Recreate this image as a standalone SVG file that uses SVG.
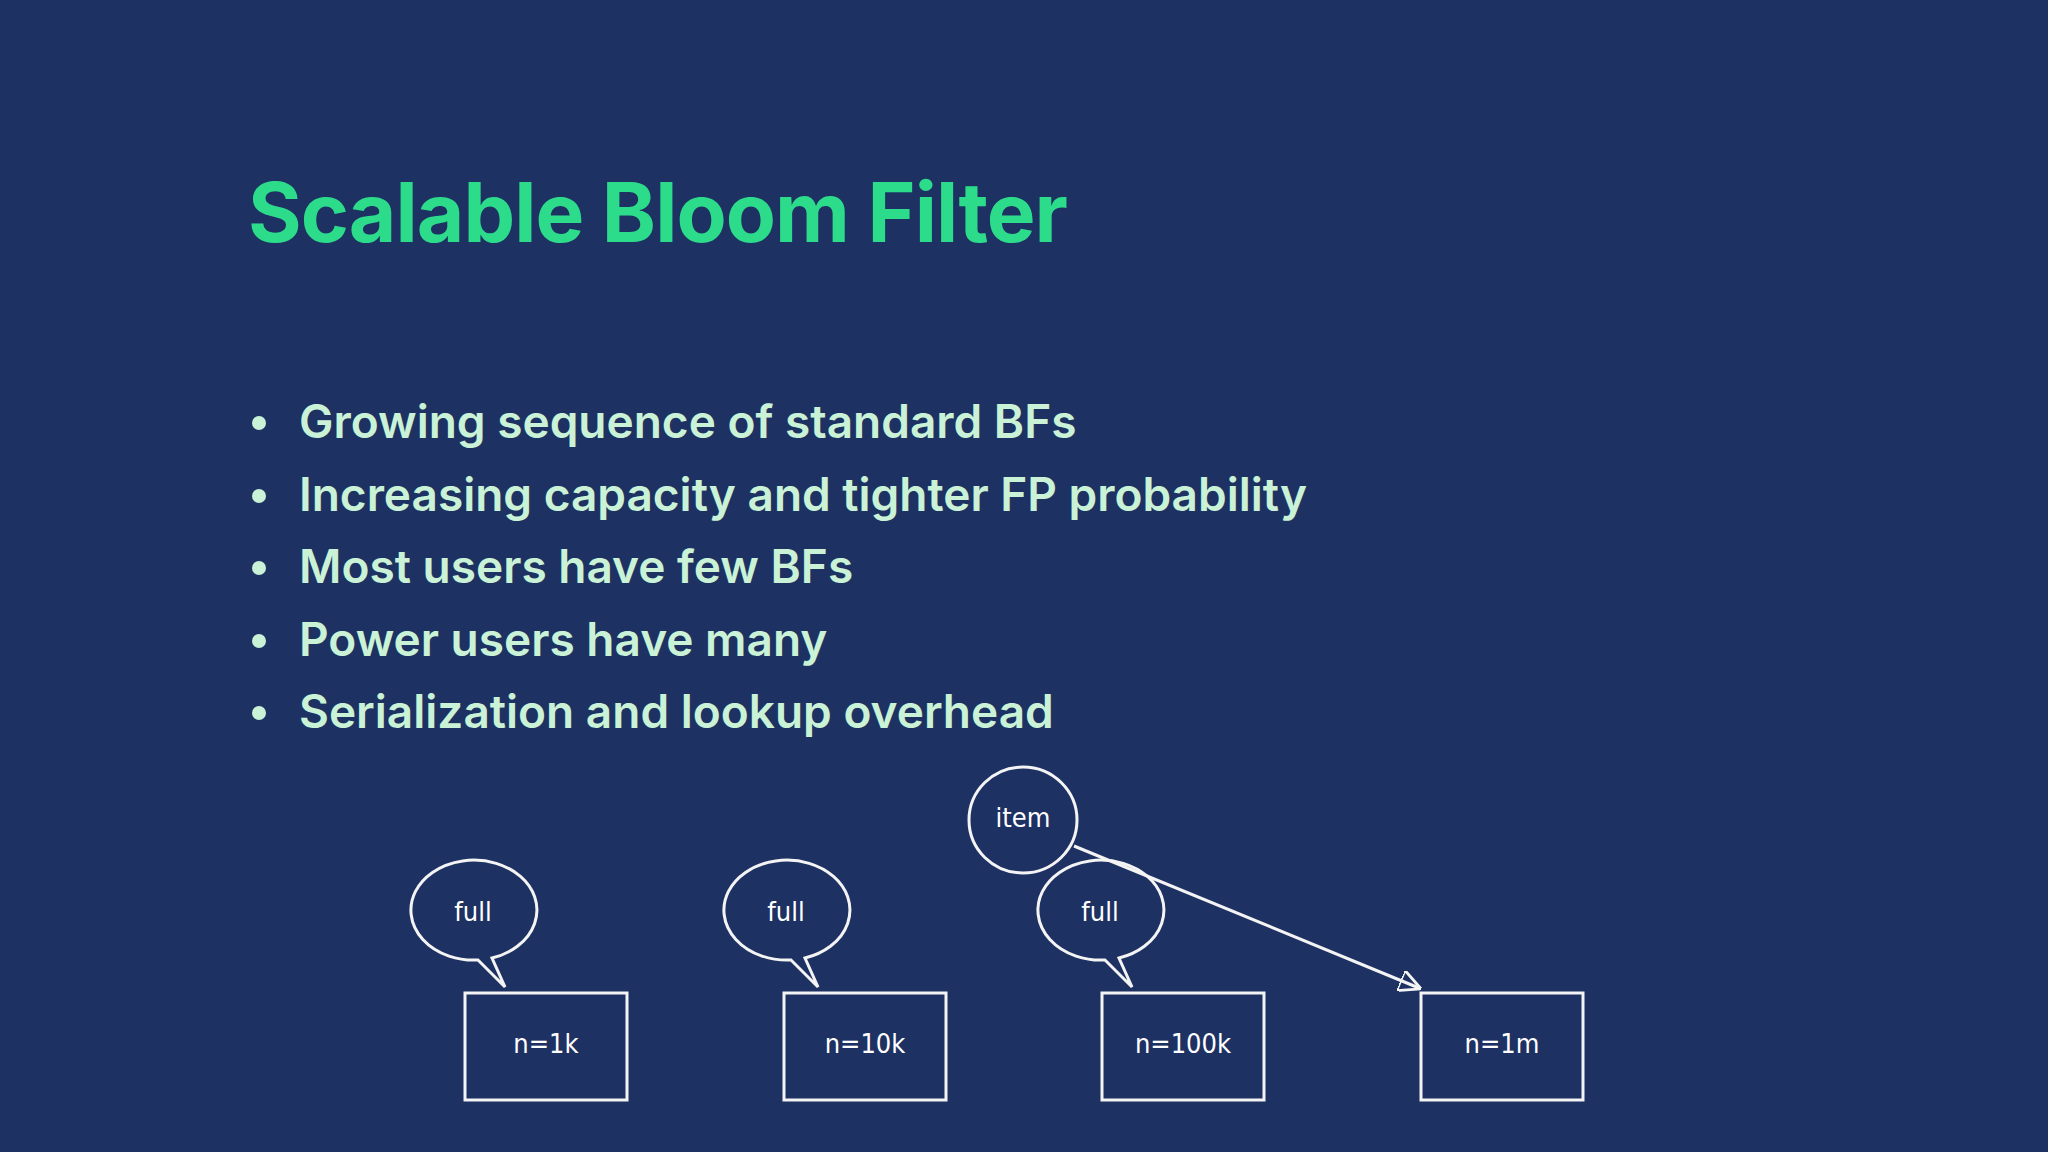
<svg xmlns="http://www.w3.org/2000/svg" width="2048" height="1152" viewBox="0 0 2048 1152">
<style>
.t{font-family:"Inter","Noto Sans",sans-serif;font-weight:700}
.b{font-family:"Inter","Noto Sans",sans-serif;font-weight:600;font-size:46px;fill:#c9f2d6}
.s{fill:none;stroke:#f4f4f4;stroke-width:3}
.h{font-family:"DejaVu Sans Condensed","DejaVu Sans",sans-serif;font-size:27px;fill:#fff;text-anchor:middle}
</style>
<defs>
<marker id="a2" viewBox="0 0 10 10" refX="9" refY="5" markerWidth="22" markerHeight="22" orient="auto" markerUnits="userSpaceOnUse"><path d="M0,0 L10,5 L0,10 Z" fill="none" stroke="#f4f4f4" stroke-width="1.3"/></marker></defs>
<rect width="2048" height="1152" fill="#1e3163"/>
<text class="t" x="248" y="242" font-size="82" fill="#2ddc8b" textLength="820">Scalable Bloom Filter</text>
<g fill="#c9f2d6"><circle cx="259" cy="423" r="7"/><circle cx="259" cy="496" r="7"/><circle cx="259" cy="568" r="7"/><circle cx="259" cy="641" r="7"/><circle cx="259" cy="713" r="7"/></g>
<text class="b" x="299" y="438">Growing sequence of standard BFs</text>
<text class="b" x="299" y="511" textLength="1008">Increasing capacity and tighter FP probability</text>
<text class="b" x="299" y="583">Most users have few BFs</text>
<text class="b" x="299" y="656">Power users have many</text>
<text class="b" x="299" y="728">Serialization and lookup overhead</text>
<g id="connectors"><line class="s" x1="1074" y1="846" x2="1419" y2="988" marker-end="url(#a2)"/></g>
<g id="b1"><rect class="s" x="465" y="993" width="162" height="107"/><text class="h" x="546" y="1053">n=1k</text></g>
<g id="b2"><rect class="s" x="784" y="993" width="162" height="107"/><text class="h" x="865" y="1053">n=10k</text></g>
<g id="b3"><rect class="s" x="1102" y="993" width="162" height="107"/><text class="h" x="1183" y="1053">n=100k</text></g>
<g id="b4"><rect class="s" x="1421" y="993" width="162" height="107"/><text class="h" x="1502" y="1053">n=1m</text></g>
<g id="f1"><path class="s" d="M478,960 L505,987 L492,958 A63,50 0 1 0 478,960 Z"/><text class="h" x="473" y="921">full</text></g>
<g id="f2"><path class="s" d="M791,960 L818,987 L805,958 A63,50 0 1 0 791,960 Z"/><text class="h" x="786" y="921">full</text></g>
<g id="f3"><path class="s" d="M1105,960 L1132,987 L1119,958 A63,50 0 1 0 1105,960 Z"/><text class="h" x="1100" y="921">full</text></g>
<g id="item"><ellipse class="s" cx="1023" cy="820" rx="54" ry="53"/><text class="h" x="1023" y="827">item</text></g>
</svg>
